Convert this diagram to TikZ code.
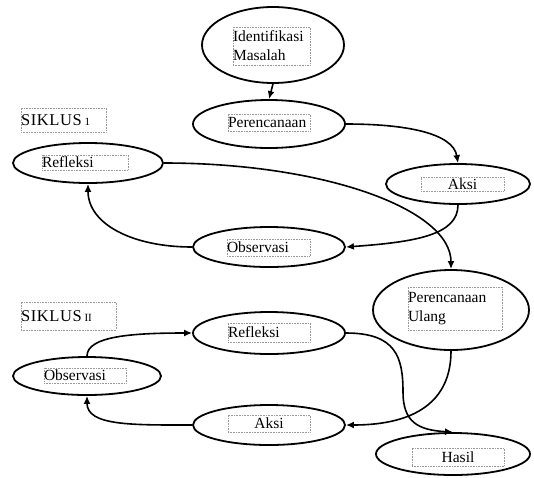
\documentclass[tikz,border=0pt]{standalone}
\usepackage{fontspec}
\setmainfont{Liberation Serif}
\usetikzlibrary{shapes.geometric,arrows.meta}
\tikzset{
  ell/.style={ellipse, draw=black, line width=1.8pt, inner sep=0pt},
  tbox/.style={draw=gray!80, densely dotted, line width=0.6pt, inner sep=0pt,
    font=\fontsize{15.5}{19}\selectfont, text=black},
  arr/.style={line width=1.6pt, -{Latex[length=8pt,width=7pt]}},
}
\begin{document}
\begin{tikzpicture}[x=1pt,y=-1pt]
\useasboundingbox (0,0) rectangle (534,477);
% ellipses
\node[ell, minimum width=142pt, minimum height=76pt] (idm) at (273,45) {};
\node[ell, minimum width=152pt, minimum height=48pt] (per) at (269,124) {};
\node[ell, minimum width=144pt, minimum height=40pt] (ak1) at (458,184) {};
\node[ell, minimum width=152pt, minimum height=40pt] (ob1) at (269,247) {};
\node[ell, minimum width=150pt, minimum height=40pt] (rf1) at (88,163) {};
\node[ell, minimum width=156pt, minimum height=80pt] (pu) at (451,310) {};
\node[ell, minimum width=152pt, minimum height=42pt] (rf2) at (269,333) {};
\node[ell, minimum width=148pt, minimum height=38pt] (ob2) at (87,376) {};
\node[ell, minimum width=152pt, minimum height=40pt] (ak2) at (269,425) {};
\node[ell, minimum width=154pt, minimum height=42pt] (ha) at (453,454) {};
% text boxes
\node[tbox, minimum width=85pt, minimum height=24pt, text width=85pt, align=left] (s1) at (63.5,120) {\fontsize{16.5}{19}\selectfont S\kern0.6pt I\kern0.6pt K\kern0.6pt L\kern0.6pt U\kern0.6pt S\,{\fontsize{11}{11}\selectfont 1}};
\node[tbox, minimum width=95pt, minimum height=28pt, text width=95pt, align=left] (s2) at (68.5,316) {\fontsize{16.5}{19}\selectfont S\kern0.6pt I\kern0.6pt K\kern0.6pt L\kern0.6pt U\kern0.6pt S\,{\fontsize{11}{11}\selectfont II}};
\node[tbox, minimum width=77pt, minimum height=38pt, text width=77pt, align=left] (tidm) at (271.5,46) {Identifikasi\\Masalah};
\node[tbox, minimum width=82pt, minimum height=17pt, text width=82pt, align=left] (tper) at (269,122.5) {Perencanaan};
\node[tbox, minimum width=83pt, minimum height=14pt, text width=83pt, align=center] (tak1) at (462.5,184) {Aksi};
\node[tbox, minimum width=83pt, minimum height=17pt, text width=83pt, align=left] (tob1) at (268.5,247.5) {Observasi};
\node[tbox, minimum width=86pt, minimum height=15pt, text width=86pt, align=left] (trf1) at (85,162.5) {Refleksi};
\node[tbox, minimum width=94pt, minimum height=43pt, text width=94pt, align=left] (tpu) at (455,308.5) {Perencanaan\\Ulang};
\node[tbox, minimum width=82pt, minimum height=19pt, text width=82pt, align=left] (trf2) at (269,332.5) {Refleksi};
\node[tbox, minimum width=82pt, minimum height=15pt, text width=82pt, align=left] (tob2) at (85,375.5) {Observasi};
\node[tbox, minimum width=82pt, minimum height=17pt, text width=82pt, align=center] (tak2) at (269,423.5) {Aksi};
\node[tbox, minimum width=92pt, minimum height=18pt, text width=92pt, align=center] (tha) at (458,457) {Hasil};
% connectors
\draw[arr] (idm.south) -- (per.north);
\draw[arr] (per.east) .. controls +(60,0) and +(-5,-30) .. (ak1.north);
\draw[arr] (ak1.south) .. controls +(0,30) and +(70,-5) .. (ob1.east);
\draw[arr] (ob1.west) .. controls +(-60,0) and +(0,40) .. (rf1.south);
\draw[arr] (rf1.east) .. controls +(160,0) and +(0,-60) .. (pu.north);
\draw[arr] (pu.south) .. controls +(0,50) and +(70,0) .. (ak2.east);
\draw[arr] (ak2.west) .. controls +(-60,0) and +(0,30) .. (ob2.south);
\draw[arr] (ob2.north) .. controls +(0,-20) and +(-60,0) .. (rf2.west);
\coordinate (mid) at (403,392);
\draw[arr] (rf2.east) .. controls +(50,0) and +(0,-35) .. (mid) .. controls +(0,30) and +(-35,-2) .. (ha.north);
\end{tikzpicture}
\end{document}
